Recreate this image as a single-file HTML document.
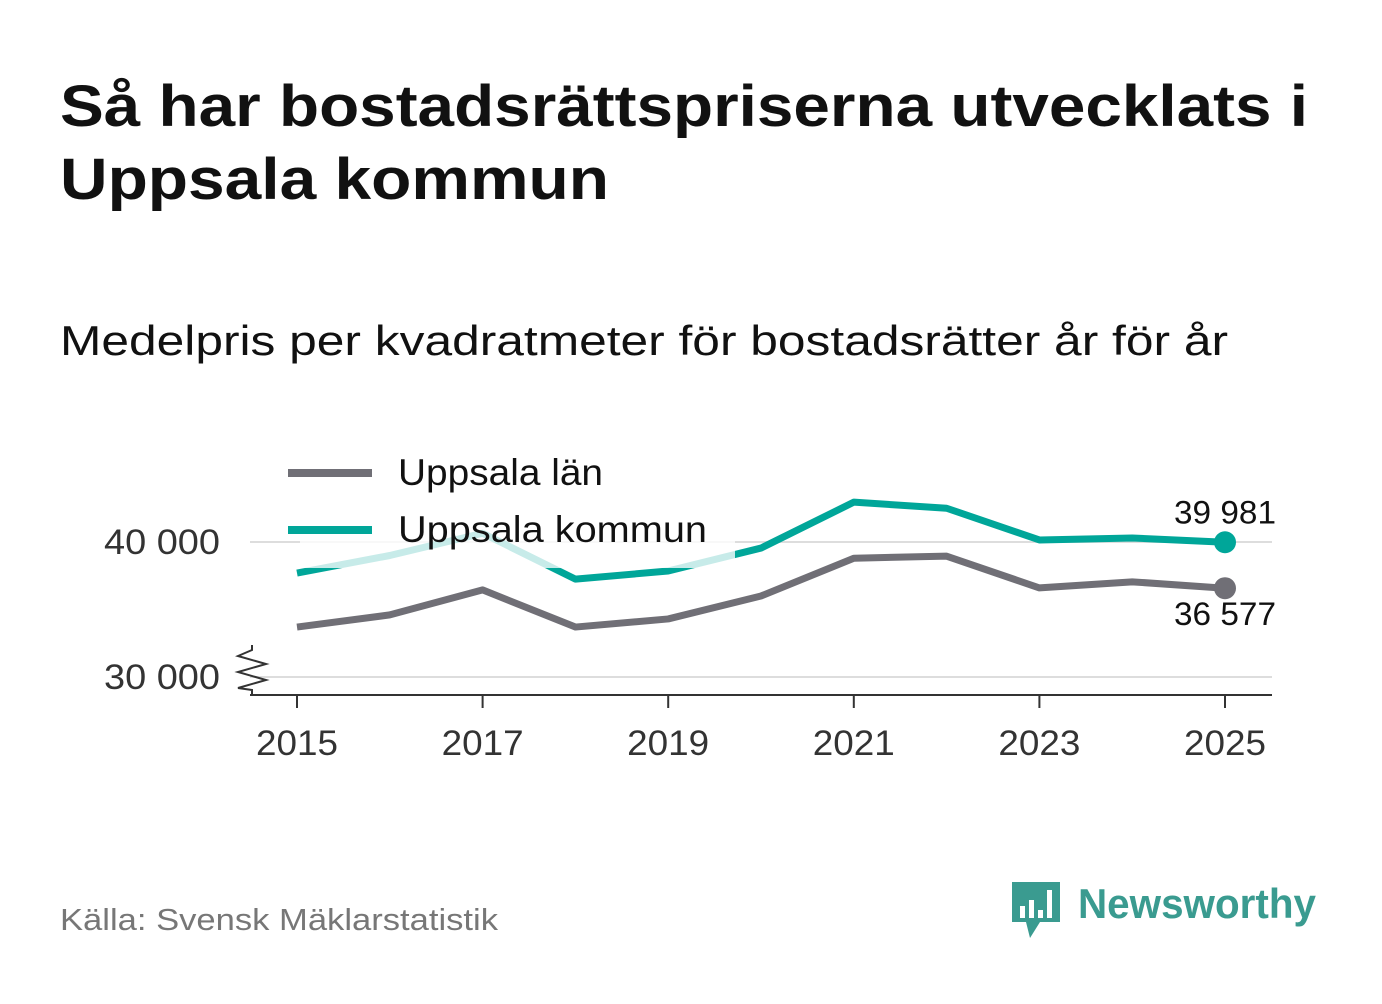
<!DOCTYPE html>
<html><head><meta charset="utf-8"><style>
body{margin:0;background:#fff;width:1382px;height:999px;overflow:hidden;font-family:"Liberation Sans",sans-serif;}
</style></head><body>
<svg width="1382" height="999" xmlns="http://www.w3.org/2000/svg">
<text x="60" y="126" font-size="58" font-weight="bold" fill="#111" textLength="1248" lengthAdjust="spacingAndGlyphs">Så har bostadsrättspriserna utvecklats i</text>
<text x="60" y="199" font-size="58" font-weight="bold" fill="#111" textLength="549" lengthAdjust="spacingAndGlyphs">Uppsala kommun</text>
<text x="60" y="355" font-size="42" fill="#111" textLength="1168" lengthAdjust="spacingAndGlyphs">Medelpris per kvadratmeter för bostadsrätter år för år</text>
<g id="plot"></g>
<text x="60" y="930" font-size="31" fill="#777" textLength="438" lengthAdjust="spacingAndGlyphs">Källa: Svensk Mäklarstatistik</text>
<g>
<path d="M1012 882h48v40h-20l-10 16-4-16h-14z" fill="#3a9b90"/>
<rect x="1020" y="906" width="5" height="12" fill="#fff"/><rect x="1029" y="900" width="5" height="18" fill="#fff"/><rect x="1038" y="910" width="5" height="8" fill="#fff"/><rect x="1047" y="890" width="5" height="28" fill="#fff"/>
<text x="1078" y="918" font-size="42" font-weight="bold" fill="#3a9b90" textLength="238" lengthAdjust="spacingAndGlyphs">Newsworthy</text>
</g>
</svg>
<script>
const years=[2015,2016,2017,2018,2019,2020,2021,2022,2023,2024,2025];
const lan=[33700,34600,36450,33700,34300,36000,38800,38950,36600,37050,36577];
const kommun=[37700,39000,40650,37250,37850,39550,42950,42500,40150,40300,39981];
const yTicks=[30000,40000];
const yTickLabels=["30 000","40 000"];
const xTicks=[2015,2017,2019,2021,2023,2025];
const NS="http://www.w3.org/2000/svg";
const X=v=>297+(v-2015)*92.8;
const Y=v=>542-(v-40000)*0.0135;
const g=document.getElementById('plot');
function mk(t,a,txt){const e=document.createElementNS(NS,t);for(const k in a)e.setAttribute(k,a[k]);if(txt!=null)e.textContent=txt;g.appendChild(e);return e;}
yTicks.forEach((t,i)=>{
 const gl=mk('line',{x1:250,x2:1272,y1:Y(t),y2:Y(t),stroke:'#ddd','stroke-width':2});
 
 
 const tl=mk('text',{x:220,y:Y(t)+12,'font-size':35,fill:'#333','text-anchor':'end',textLength:116,lengthAdjust:'spacingAndGlyphs'},yTickLabels[i]);
 
 
});
const ax=mk('line',{x1:250,x2:1272,y1:695,y2:695,stroke:'#333','stroke-width':2});


const zz=mk('path',{d:'M252 645 L252 650 L238 656 L266 664 L238 672 L266 680 L238 688 L252 690 L252 695',fill:'none',stroke:'#333','stroke-width':2});


xTicks.forEach(t=>{
 const tk=mk('line',{x1:X(t),x2:X(t),y1:695,y2:708,stroke:'#333','stroke-width':2});
 
 
 const tl=mk('text',{x:X(t),y:755,'font-size':35,fill:'#333','text-anchor':'middle',textLength:82,lengthAdjust:'spacingAndGlyphs'},String(t));
 
 
});
function series(vals,col,name){
 const p=mk('polyline',{points:vals.map((v,i)=>X(years[i])+','+Y(v)).join(' '),fill:'none',stroke:col,'stroke-width':7,'stroke-linejoin':'round'});
 
 
 const n=vals.length-1;
 const c=mk('circle',{cx:X(years[n]),cy:Y(vals[n]),r:11,fill:col});
 
 
}
series(lan,'#706f76','lan');
series(kommun,'#00a699','kommun');
const fmt=v=>String(Math.round(v)).replace(/\B(?=(\d{3})+(?!\d))/g,' ');
const l1=mk('text',{x:X(2025),y:Y(kommun[10])-19,'font-size':32,fill:'#111','text-anchor':'middle',textLength:102,lengthAdjust:'spacingAndGlyphs'},fmt(kommun[10]));


const l2=mk('text',{x:X(2025),y:Y(lan[10])+37,'font-size':32,fill:'#111','text-anchor':'middle',textLength:102,lengthAdjust:'spacingAndGlyphs'},fmt(lan[10]));


const bg=mk('rect',{x:300,y:448,width:435,height:120,fill:'#fff','fill-opacity':0.78});


[['Uppsala län','#706f76',473,205],['Uppsala kommun','#00a699',530,309]].forEach(([n,c,y,w])=>{
 const s=mk('line',{x1:288,x2:372,y1:y,y2:y,stroke:c,'stroke-width':8});
 
 
 const t=mk('text',{x:398,y:y+12,'font-size':37,fill:'#111',textLength:w,lengthAdjust:'spacingAndGlyphs'},n);
 
 
});
</script>
</body></html>
